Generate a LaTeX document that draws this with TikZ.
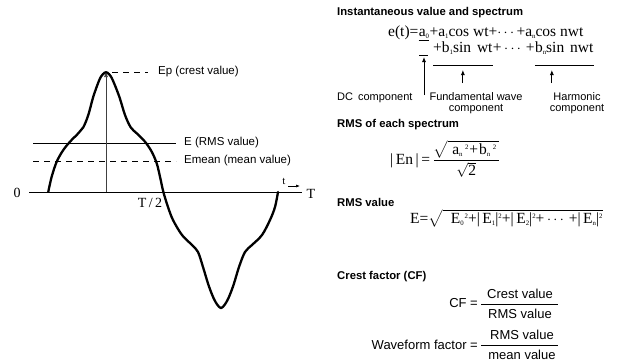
\documentclass[tikz,border=0pt]{standalone}
\usepackage{amsmath}
\usepackage{fontspec}
\setmainfont{Liberation Serif}
\setsansfont{Liberation Sans}
\usetikzlibrary{arrows.meta,calc}
\newcommand\sbx[1]{\raisebox{-0.35ex}{\fontsize{6.8}{6.8}\selectfont #1}}
\newcommand\spx[1]{\raisebox{0.7ex}{\fontsize{6.8}{6.8}\selectfont #1}}
\begin{document}
\begin{tikzpicture}[x=1pt,y=-1pt,
  lab/.style={font=\sffamily\fontsize{11.5}{12}\selectfont, inner sep=0pt, anchor=west},
  rlab/.style={font=\sffamily\fontsize{11}{11}\selectfont, inner sep=0pt, align=center},
  head/.style={font=\sffamily\bfseries\fontsize{11.3}{12}\selectfont, inner sep=0pt, anchor=west},
  fml/.style={font=\fontsize{15.5}{17}\selectfont, inner sep=0pt, anchor=base west},
  cf/.style={font=\sffamily\fontsize{13}{14}\selectfont, inner sep=0pt},
  num/.style={font=\fontsize{14}{16}\selectfont, inner sep=0pt},
  wave/.style={line width=2.3pt, line join=round, line cap=round},
  thinl/.style={line width=0.8pt},
  dsh/.style={line width=0.8pt, dash pattern=on 6pt off 5pt},
  arr/.style={-{Latex[length=5pt,width=4pt]}, line width=0.8pt},
]
\useasboundingbox (0,0) rectangle (643,362);
% ---------- left waveform ----------
\coordinate (ax0) at (29,192);
\coordinate (ax1) at (302,192);
\draw[thinl] (ax0) -- (ax1);
\node[num] (zero) at (17,193) {0};
\node[num] (T) at (311,194) {T};
\node[num] (Th) at (150,203) {T\,/\,2};
\node[font=\fontsize{11}{12}\selectfont, inner sep=0pt] (tt) at (284,181) {t};
\coordinate (ta) at (288,186);
\coordinate (tb) at (300,186);
\draw[-{Latex[length=4pt,width=3pt]}, line width=0.6pt] (ta) -- (tb);

\coordinate (eL) at (33,143); \coordinate (eR) at (176,143);
\draw[thinl] (eL) -- (eR);
\node[lab] (elab) at (184,143) {E (RMS value)};
\coordinate (mL) at (33,161); \coordinate (mR) at (176,161);
\draw[dsh] (mL) -- (mR);
\node[lab] (mlab) at (184,161) {Emean (mean value)};
\coordinate (pk) at (106,72); \coordinate (pkb) at (106,192);
\draw[arr, line width=0.6pt, black!75] (pkb) -- (pk);
\coordinate (pd) at (112,72); \coordinate (pd2) at (148,72);
\draw[dsh] (pd) -- (pd2);
\node[lab] (eplab) at (158,72) {Ep (crest value)};

\draw[wave] plot[smooth, tension=0.55] coordinates {
 (48.3,191.7) (51.7,176.7) (56.7,161.7) (63.3,150) (70,141.7) (78.3,133.3)
 (83.3,127.3) (88.3,115) (93.3,96.7) (99.3,80) (102.8,74.3) (106,72.2) (109.2,74.3) (112.7,80)
 (119.3,96.7) (125,115) (130.7,127.3) (136.7,133.3) (145,141.7) (151.7,151.7)
 (156.7,163.3) (160,176.7) (163.3,191.7) (168,207) (173,220) (182,235)
 (192,245) (198,252) (203,267) (208.5,285) (213.5,298) (217.5,305) (221,308)
 (224.5,305) (228.5,298) (233.5,285) (239,267) (245,252) (252,245) (262,235) (270,220) (275,207) (278,192)};

% ---------- right formulas ----------
\node[head] (h1) at (337,13) {Instantaneous value and spectrum};
\node[fml] (l1a) at (388,36) {e(t)=};
\node[fml, anchor=base west] (a0) at (l1a.base east) {a\sbx{0}};
\node[fml, anchor=base west] (l1b) at (a0.base east) {+a\sbx{1}cos wt+$\cdots$+a\sbx{n}cos nwt};
\draw[thinl] ([yshift=-4pt]a0.base west) -- ([yshift=-4pt]a0.base east);

\node[fml] (fund) at (433,52) {+b\sbx{1}sin\hspace{2pt} wt};
\node[fml, anchor=base west] (l2m) at (fund.base east) {+\hspace{2.5pt}$\cdots$\hspace{2.5pt}+};
\node[fml, anchor=base west] (harm) at (l2m.base east) {b\sbx{n}sin\hspace{2pt} nwt};
\draw[thinl] ([yshift=-13pt]fund.base west) -- ([yshift=-13pt]fund.base east);
\draw[thinl] ([yshift=-13pt]harm.base west) -- ([yshift=-13pt]harm.base east);

\node[rlab, anchor=west] (dc) at (337,98) {DC\hspace{0.45em}component};
\node[rlab, anchor=north] (fl) at (476,92) {Fundamental wave\\component};
\node[rlab, anchor=north] (hl) at (577,92) {Harmonic\\component};

\coordinate (dcb) at ([yshift=-59pt]a0.base);
\coordinate (dct) at ([yshift=-21pt]a0.base);
\draw[arr] (dcb) -- (dct);
\coordinate (bar0) at ([xshift=-4.5pt,yshift=-19pt]a0.base);
\coordinate (bar1) at ([xshift=4.5pt,yshift=-19pt]a0.base);
\draw[thinl] (bar0) -- (bar1);
\coordinate (fb) at ([yshift=-31pt]fund.base);
\coordinate (ft) at ([yshift=-18pt]fund.base);
\draw[arr] (fb) -- (ft);
\coordinate (hb) at ([xshift=17pt,yshift=-31pt]harm.base west);
\coordinate (ht) at ([xshift=17pt,yshift=-18pt]harm.base west);
\draw[arr] (hb) -- (ht);

\node[head] (h2) at (337,125) {RMS of each spectrum};
\node[fml] (en) at (390,164) {|\,En\,|\,=\,$\dfrac{\sqrt{\;\text{a\sbx{n}\hspace{2.5pt}\spx{2}\hspace{1pt}+\hspace{1pt}b\sbx{n}\hspace{2.5pt}\spx{2}}\,}}{\sqrt{\text{2}}}$};

\node[head] (h3) at (337,202) {RMS value};
\node[fml] (erms) at (410,223) {E=$\sqrt{\;\;\text{E\sbx{0}\hspace{1pt}\spx{2}+|\,E\sbx{1}|\spx{2}+|\,E\sbx{2}|\spx{2}+\,$\cdots$\,+|\,E\sbx{n}|\spx{2}}}$};

\node[head] (h4) at (337,277) {Crest factor (CF)};
\node[cf, anchor=east] (cfl) at (478,303) {CF =};
\node[cf] (cfn) at (520,294) {Crest value};
\coordinate (cb0) at (481,304); \coordinate (cb1) at (558,304);
\draw[thinl] (cb0) -- (cb1);
\node[cf] (cfd) at (520,314) {RMS value};

\node[cf, anchor=east] (wfl) at (478,345) {Waveform factor =};
\node[cf] (wfn) at (522,335) {RMS value};
\coordinate (wb0) at (481,345); \coordinate (wb1) at (558,345);
\draw[thinl] (wb0) -- (wb1);
\node[cf] (wfd) at (522,355) {mean value};
\end{tikzpicture}
\end{document}
